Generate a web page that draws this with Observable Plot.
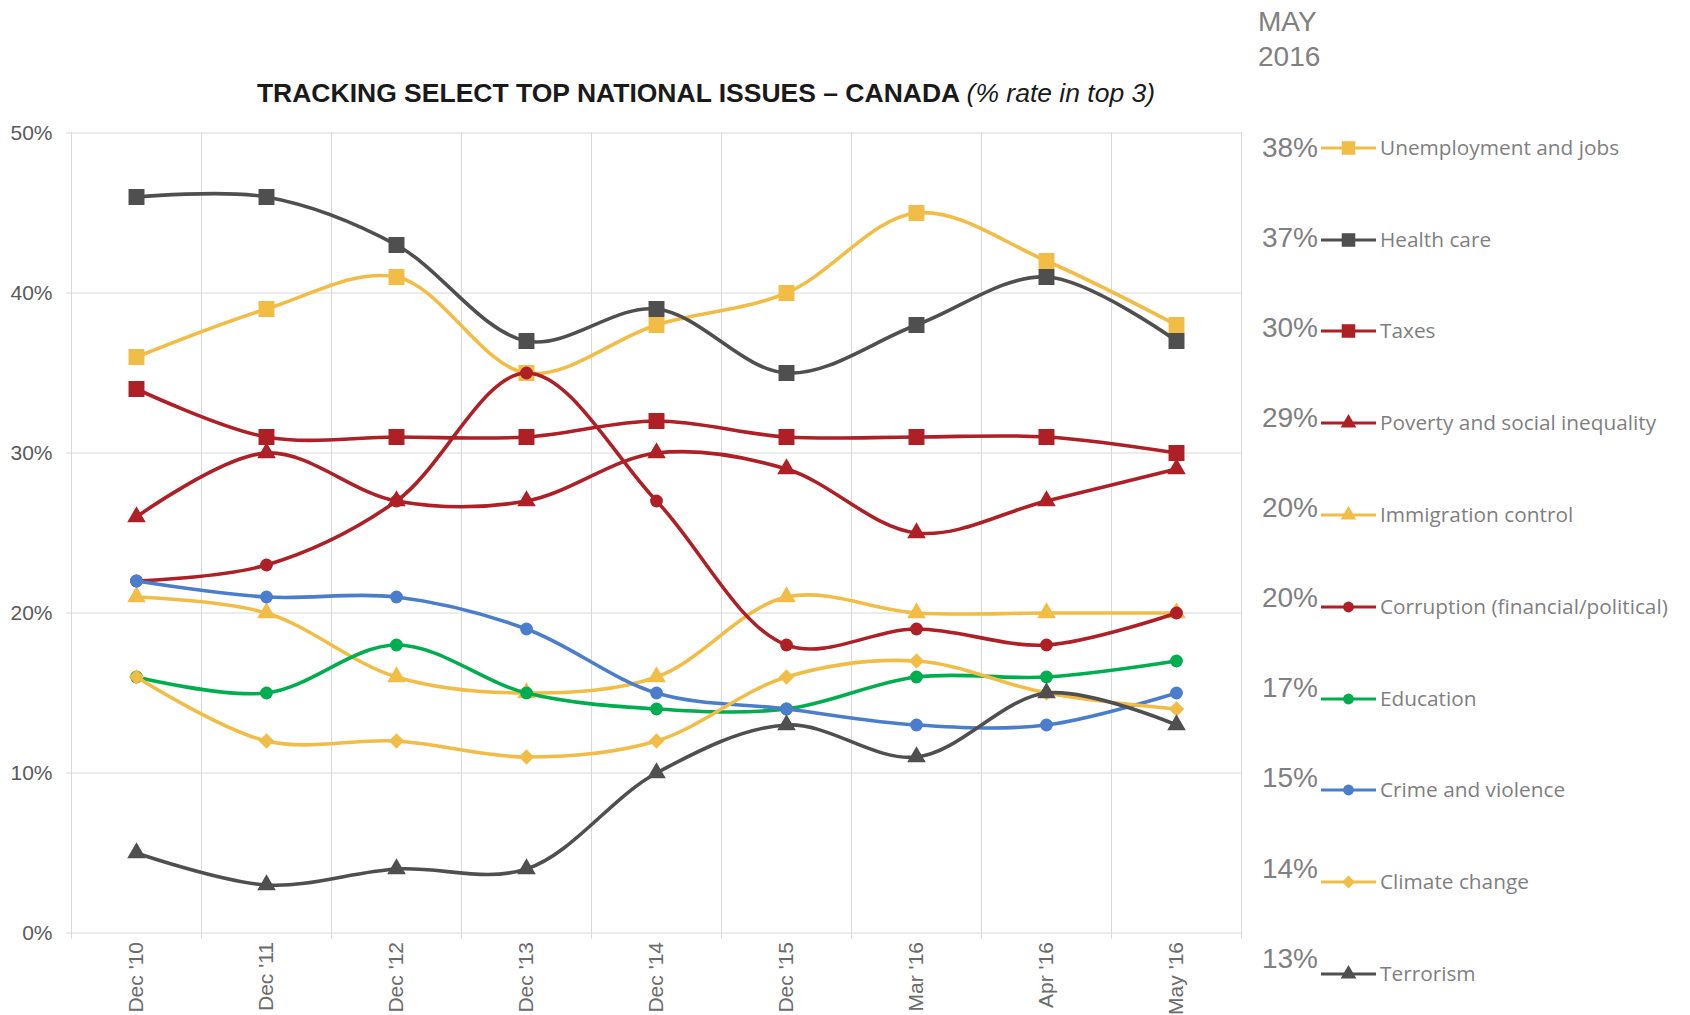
<!DOCTYPE html>
<html>
<head>
<meta charset="utf-8">
<script src="https://cdn.jsdelivr.net/npm/d3@7"></script>
<script src="https://cdn.jsdelivr.net/npm/@observablehq/plot@0.6"></script>
<style>
  body { margin: 0; background: #fff; font-family: "Liberation Sans", Arial, sans-serif; }
  #wrap { position: relative; width: 1690px; height: 1015px; overflow: hidden; background: #fff; }
  #title { position: absolute; left: 0; width: 1412px; top: 78px; line-height: 30px; text-align: center;
           font-size: 26.5px; font-weight: bold; color: #1a1a1a; white-space: nowrap; }
  #title i { font-weight: normal; }
  #chart { position: absolute; left: 0; top: 110px; }
  #period { position: absolute; left: 1258px; top: 4px; font-size: 28px; line-height: 35px; color: #808080; }
  .pct { position: absolute; left: 1258px; width: 60px; text-align: right; font-size: 28px; color: #808080;
         font-family: "Liberation Sans", Arial, sans-serif; line-height: 1; }
  .icon { position: absolute; left: 1321px; }
  .lab { position: absolute; left: 1380px; font-family: "Open Sans", sans-serif; font-size: 20.8px; color: #7f7f7f; line-height: 1; white-space: nowrap; }
</style>
</head>
<body>
<div id="wrap">
  <div id="title">TRACKING SELECT TOP NATIONAL ISSUES – CANADA <i>(% rate in top 3)</i></div>
  <div id="period">MAY<br>2016</div>
  <div id="chart"></div>
  <div id="legend"></div>
</div>
<script>
// ---- data ----
const months = ["Dec '10", "Dec '11", "Dec '12", "Dec '13", "Dec '14", "Dec '15", "Mar '16", "Apr '16", "May '16"];
const yTicks = [0, 10, 20, 30, 40, 50];

const seriesNames = [
  "Unemployment and jobs",
  "Health care",
  "Taxes",
  "Poverty and social inequality",
  "Immigration control",
  "Corruption (financial/political)",
  "Education",
  "Crime and violence",
  "Climate change",
  "Terrorism"
];

const unemployment = [36, 39, 41, 35, 38, 40, 45, 42, 38];
const healthCare   = [46, 46, 43, 37, 39, 35, 38, 41, 37];
const taxes        = [34, 31, 31, 31, 32, 31, 31, 31, 30];
const poverty      = [26, 30, 27, 27, 30, 29, 25, 27, 29];
const immigration  = [21, 20, 16, 15, 16, 21, 20, 20, 20];
const corruption   = [22, 23, 27, 35, 27, 18, 19, 18, 20];
const education    = [16, 15, 18, 15, 14, 14, 16, 16, 17];
const crime        = [22, 21, 21, 19, 15, 14, 13, 13, 15];
const climate      = [16, 12, 12, 11, 12, 16, 17, 15, 14];
const terrorism    = [5, 3, 4, 4, 10, 13, 11, 15, 13];

const seriesValues = [unemployment, healthCare, taxes, poverty, immigration, corruption, education, crime, climate, terrorism];

// ---- styles ----
const YELLOW = "#f1bd47", GREY = "#4f4f4f", RED = "#ae1f26", GREEN = "#00ad4f", BLUE = "#4a7ecd";
const seriesColors  = [YELLOW, GREY, RED, RED, YELLOW, RED, GREEN, BLUE, YELLOW, GREY];
const seriesSymbols = ["square", "square", "square", "triangle", "triangle", "circle", "circle", "circle", "diamond2", "triangle"];
const symbolR = {square: 9, triangle: 6.9, circle: 6.4, diamond2: 6.9};

// tidy table
const rows = [];
seriesNames.forEach((name, s) => {
  seriesValues[s].forEach((v, i) => rows.push({series: name, s, i, month: months[i], value: v}));
});

const idx = d3.range(months.length);
const bounds = d3.range(-0.5, months.length, 1);

const marks = [
  Plot.gridY(yTicks, {stroke: "#d9d9d9", strokeOpacity: 1, strokeWidth: 1}),
  Plot.gridX(bounds, {stroke: "#d9d9d9", strokeOpacity: 1, strokeWidth: 1}),
  Plot.axisY(yTicks, {tickSize: 5, tickFormat: () => "", stroke: "#d9d9d9", label: null}),
  Plot.axisY(yTicks, {tickSize: 0, tickPadding: 19, tickFormat: d => d + "%", fontSize: 21, color: "#595959", label: null}),
  Plot.axisX(bounds, {tickSize: 6, tickFormat: () => "", stroke: "#d9d9d9", label: null}),
  Plot.axisX(idx, {tickSize: 0, tickPadding: 9, tickRotate: -90, tickFormat: i => months[i], fontSize: 21, color: "#6b6b6b", label: null})
];

seriesNames.forEach((name, s) => {
  const data = rows.filter(d => d.s === s);
  marks.push(Plot.line(data, {x: "i", y: "value", stroke: seriesColors[s], strokeWidth: 3.6, curve: "catmull-rom"}));
  marks.push(Plot.dot(data, {x: "i", y: "value", fill: seriesColors[s], stroke: null,
    symbol: seriesSymbols[s], r: symbolR[seriesSymbols[s]]}));
});

const chart = Plot.plot({
  width: 1250,
  height: 905,
  marginLeft: 71,
  marginRight: 9,
  marginTop: 22.5,
  marginBottom: 82.5,
  style: {fontFamily: "'Liberation Sans', Arial, sans-serif", background: "transparent", overflow: "visible"},
  x: {type: "linear", domain: [-0.5, months.length - 0.5]},
  y: {type: "linear", domain: [0, 50]},
  marks
});
document.getElementById("chart").appendChild(chart);

// ---- legend ----
const legend = document.getElementById("legend");
const symMap = {square: d3.symbolSquare, triangle: d3.symbolTriangle, circle: d3.symbolCircle, diamond2: d3.symbolDiamond2};
seriesNames.forEach((name, s) => {
  const cy = 147.7 + s * 91.8;
  const last = seriesValues[s][seriesValues[s].length - 1];
  const pct = document.createElement("div");
  pct.className = "pct";
  pct.textContent = last + "%";
  pct.style.top = (cy - 14 - s * 1.7) + "px";
  legend.appendChild(pct);

  const icon = document.createElementNS("http://www.w3.org/2000/svg", "svg");
  icon.setAttribute("class", "icon");
  icon.setAttribute("width", 56);
  icon.setAttribute("height", 22);
  icon.style.top = (cy - 11) + "px";
  const ln = document.createElementNS("http://www.w3.org/2000/svg", "line");
  ln.setAttribute("x1", 0); ln.setAttribute("x2", 55); ln.setAttribute("y1", 11); ln.setAttribute("y2", 11);
  ln.setAttribute("stroke", seriesColors[s]); ln.setAttribute("stroke-width", 3.2);
  icon.appendChild(ln);
  const p = document.createElementNS("http://www.w3.org/2000/svg", "path");
  const rr = symbolR[seriesSymbols[s]] * 0.85;
  p.setAttribute("d", d3.symbol(symMap[seriesSymbols[s]], Math.PI * rr * rr)());
  p.setAttribute("transform", "translate(27.5,11)");
  p.setAttribute("fill", seriesColors[s]);
  icon.appendChild(p);
  legend.appendChild(icon);

  const lab = document.createElement("div");
  lab.className = "lab";
  lab.textContent = name;
  lab.style.top = (cy - 11) + "px";
  legend.appendChild(lab);
});
</script>
</body>
</html>
